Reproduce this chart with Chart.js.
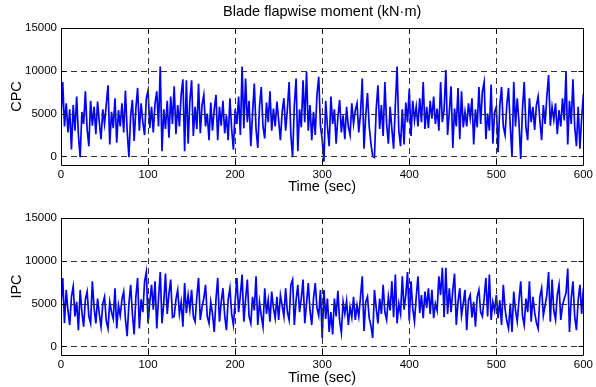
<!DOCTYPE html>
<html>
<head>
<meta charset="utf-8">
<script src="https://cdn.jsdelivr.net/npm/chart.js@4.4.0/dist/chart.umd.min.js"></script>
<style>
  body { margin: 0; background: #fff; }
  #wrap { position: relative; width: 596px; height: 387px; }
  canvas { position: absolute; left: 0; }
</style>
</head>
<body>
<div id="wrap">
  <canvas id="cpcChart" width="596" height="196" style="top:0"></canvas>
  <canvas id="ipcChart" width="596" height="191" style="top:196px"></canvas>
</div>
<script>
// blade flapwise moment (kN·m), one sample every 2 s
const cpc = [
  4500, 8700, 3500, 6200, 2800,  5500, 800, 6000, 3000, 7000,
  2500, -100, 5200, 3800, 7600,  3200, 1200, 6500, 3600, 5800,
  2600, 6400, 4000, 2000, 5500,  3800, 6100, 8300, 1400, 5200,
  3300, 6800, 1600, 5400, 3500,  6200, 2800, 7700, 3000, -100,
  4800, 6600, 1800, 5600, 8000,  3000, 6200, 4000, 2500, 6800,
  7700, 3300, 5800, 2800, 6200,  7600, 3500, 10500, 600, 5500,
  3200, 6500, 2200, 7000, 3800,  8200, 2600, 6000, 3500, 7200,
  9000, 600, 8900, 1500, 6500,  8900, 2400, 5800, 3200, 8500,
  2700, 6000, 7200, 3500, 5000,  1900, 6300, 3000, 5500, 7200,
  1900, 5800, 3600, 6500, 2700,  4800, 1900, 6800, 3200, 800,
  5500, 3800, 7000, 2500, 10500,  3300, 9100, 4000, 6500, 1200,
  5000, 8500, 3200, 1000, 5800,  8100, 3500, 2100, 6300, 4000,
  7600, 3000, 5600, 3500, 6400,  4200, 1900, 5200, 6800, 3000,
  5500, 8700, 2500, -100, 6000,  9100, 600, 5500, 3400, 8900,
  4000, 9900, 3000, 6000, 1900,  5200, 2500, 7200, 9300, 3500,
  2000, -600, 6500, 3500, 1200,  7000, 3800, 5500, 1500, 4600,
  6600, 2800, 4800, 2000, 5800,  3500, 2500, 6200, 3800, 5400,
  6200, 2800, 5000, 9100, 900,  4800, 7400, 3500, 1500, 0,
  -100, 5500, 8300, 3200, 6000,  2400, 8700, 3800, 1500, 5800,
  3200, 900, 6000, 10500, 3000,  1200, 5500, 1400, 6300, 4000,
  7900, 2400, 6500, 4200, 5800,  3500, 6800, 4000, 8700, 3200,
  5800, 3300, 6500, 4400, 7000,  3800, 5600, 3000, 8700, 4000,
  5500, 10100, 2500, 5200, 8200,  1000, 5600, 3500, 8000, 2000,
  7600, 3400, 5200, 3500, 6200,  4500, 6800, 1400, 5500, 3400,
  8100, 3800, 7600, 8700, 2000,  5000, 3000, 8400, 1500, 5200,
  5800, 500, 6000, 8100, 3500,  2500, 6000, 8000, 3500, 0,
  8700, 3500, 6800, 4000, -300,  5500, 8700, 3400, 1900, 6800,
  4000, 5800, 3100, 6000, 7000,  4200, 1900, 6000, 3800, 7000,
  9500, 3600, 5800, 4300, 6200,  2600, 5400, 3500, 6800, 4200,
  9900, 1400, 6500, 3800, 9000,  3500, 1200, 5800, 900, 4500,
  7300
];
const ipc = [
  5000, 8000, 2700, 6600, 4200,  2500, 5800, 7000, 3500, 5200,
  1900, 6600, 4000, 2300, 5500,  6400, 3500, 2700, 7600, 4500,
  2700, 5600, 3800, 2300, 5000,  5800, 3000, 2100, 5200, 4000,
  3200, 6800, 2100, 4800, 3600,  5500, 6400, 3200, 1200, 5000,
  7200, 3800, 1400, 5800, 8000,  2100, 5500, 4000, 7600, 8700,
  2700, 5200, 7200, 4300, 7600,  2100, 5600, 8700, 2700, 5000,
  8500, 3800, 6200, 7800, 3400,  3500, 5500, 6600, 3800, 5200,
  2300, 7400, 3900, 6000, 4300,  6600, 3500, 2900, 5800, 8000,
  3100, 4600, 5600, 7200, 3500,  2700, 5200, 3800, 1700, 5500,
  8000, 2900, 5200, 6800, 3600,  1900, 5500, 6800, 3800, 2500,
  5200, 8000, 4000, 6000, 8400,  2900, 5500, 7800, 3500, 2700,
  5800, 4200, 8200, 2500, 5200,  3600, 2300, 6800, 3800, 5400,
  2900, 6400, 4500, 3300, 5800,  3100, 6000, 4800, 3500, 6800,
  4000, 3100, 7200, 7800, 2500,  5400, 7200, 4000, 5600, 7800,
  2700, 5000, 7400, 4200, 2500,  5600, 7400, 4500, 3600, 6600,
  1000, 6600, 3200, 5600, 1700,  4000, 1400, 5600, 3500, 6500,
  3000, 1600, 5200, 3800, 5300,  2500, 4600, 3400, 5800, 3100,
  4800, 3500, 5800, 8200, 1800,  5200, 5800, 3300, 2400, 1000,
  6600, 4500, 2700, 5600, 3800,  7200, 4000, 3100, 5800, 4200,
  7600, 3400, 8400, 2700, 5000,  3800, 8200, 4300, 6000, 8700,
  3000, 7600, 4400, 2900, 5800,  8200, 3900, 6000, 3300, 6400,
  4500, 6800, 3800, 6600, 3300,  5000, 4200, 8200, 6000, 9200,
  3400, 9200, 3800, 6800, 4000,  6600, 8500, 2500, 5200, 6800,
  3600, 5000, 6600, 1900, 5400,  6000, 3400, 5200, 2300, 5800,
  6600, 4000, 3500, 5600, 8000,  3500, 8400, 3100, 5200, 4200,
  6000, 3300, 5400, 2500, 7200,  4400, 3000, 2100, 5000, 1700,
  6400, 4200, 2900, 5400, 7600,  3600, 2500, 5600, 4000, 7600,
  2900, 5800, 4000, 2800, 2100,  5800, 6800, 3600, 4800, 6000,
  8700, 2900, 7800, 4200, 3100,  6000, 7200, 3100, 4800, 5600,
  6200, 9100, 1700, 5600, 7600,  3500, 1900, 5400, 7200, 3800,
  6800
];
const sampleStep = 2; // seconds between samples
const xTicks = [0, 100, 200, 300, 400, 500, 600];
const yTicks = [0, 5000, 10000, 15000];
const yGrid = [0, 5000, 10000];
const xGrid = [100, 200, 300, 400, 500];
const figTitle = 'Blade flapwise moment (kN·m)';

const FONT = "'Liberation Sans', Arial, Helvetica, sans-serif";

// MATLAB look: dashed grid drawn over the data, closed box, inward ticks
const matlabAxes = {
  id: 'matlabAxes',
  afterDatasetsDraw(chart, args, opts) {
    const { ctx, chartArea: a, scales: { x, y } } = chart;
    ctx.save();
    ctx.strokeStyle = '#333';
    ctx.lineWidth = 1;
    ctx.setLineDash([6, 4]);
    ctx.beginPath();
    xGrid.forEach(v => {
      const px = Math.round(x.getPixelForValue(v)) + 0.5;
      ctx.moveTo(px, a.top); ctx.lineTo(px, a.bottom);
    });
    yGrid.forEach(v => {
      const py = Math.round(y.getPixelForValue(v)) + 0.5;
      ctx.moveTo(a.left, py); ctx.lineTo(a.right, py);
    });
    ctx.stroke();
    ctx.setLineDash([]);
    ctx.strokeStyle = '#000';
    ctx.beginPath();
    ctx.rect(Math.round(a.left) + 0.5, Math.round(a.top) + 0.5,
             Math.round(a.right - a.left), Math.round(a.bottom - a.top));
    const tl = 5;
    xTicks.forEach(v => {
      const px = Math.round(x.getPixelForValue(v)) + 0.5;
      ctx.moveTo(px, a.bottom); ctx.lineTo(px, a.bottom - tl);
      ctx.moveTo(px, a.top); ctx.lineTo(px, a.top + tl);
    });
    yTicks.forEach(v => {
      const py = Math.round(y.getPixelForValue(v)) + 0.5;
      ctx.moveTo(a.left, py); ctx.lineTo(a.left + tl, py);
      ctx.moveTo(a.right, py); ctx.lineTo(a.right - tl, py);
    });
    ctx.stroke();

    // figure title, centred over the axes box like MATLAB does
    if (opts.title) {
      ctx.fillStyle = '#000';
      ctx.font = '14.5px ' + FONT;
      ctx.textAlign = 'center';
      ctx.textBaseline = 'middle';
      ctx.fillText(opts.title, (a.left + a.right) / 2, 12);
    }
    ctx.restore();
  }
};

function makeChart(id, values, yLabel, opts) {
  const points = values.map((v, i) => ({ x: i * sampleStep, y: v }));
  return new Chart(document.getElementById(id), {
    type: 'line',
    data: {
      datasets: [{
        data: points,
        borderColor: '#0000ff',
        borderWidth: 1.7,
        pointRadius: 0,
        tension: 0,
        fill: false
      }]
    },
    options: {
      responsive: false,
      animation: false,
      events: [],
      layout: { padding: { top: opts.padTop, right: 11, left: 0, bottom: 0 } },
      plugins: {
        legend: { display: false },
        tooltip: { enabled: false },
        title: { display: false },
        matlabAxes: { title: opts.title }
      },
      scales: {
        x: {
          type: 'linear',
          min: 0,
          max: 600,
          afterBuildTicks: s => { s.ticks = xTicks.map(v => ({ value: v })); },
          afterFit: s => { s.height = opts.xHeight; },
          grid: { display: false, drawTicks: false },
          border: { display: false },
          ticks: { color: '#000', font: { family: FONT, size: 11.5 }, padding: 3, maxRotation: 0,
                   callback: v => String(v) },
          title: {
            display: true,
            text: 'Time (sec)',
            color: '#000',
            font: { family: FONT, size: 14.5 },
            padding: { top: 0, bottom: 0 }
          }
        },
        y: {
          min: -1000,
          max: 15000,
          afterBuildTicks: s => { s.ticks = yTicks.map(v => ({ value: v })); },
          afterFit: s => { s.width = 61; },
          grid: { display: false, drawTicks: false },
          border: { display: false },
          ticks: { color: '#000', font: { family: FONT, size: 11.5 }, padding: 4,
                   callback: v => String(v) },
          title: {
            display: true,
            text: yLabel,
            color: '#000',
            font: { family: FONT, size: 14.5 },
            padding: { top: 8, bottom: 0 }
          }
        }
      }
    },
    plugins: [matlabAxes]
  });
}

makeChart('cpcChart', cpc, 'CPC', { title: figTitle, padTop: 28, xHeight: 31 });
makeChart('ipcChart', ipc, 'IPC', { title: null, padTop: 22, xHeight: 32 });
</script>
</body>
</html>
